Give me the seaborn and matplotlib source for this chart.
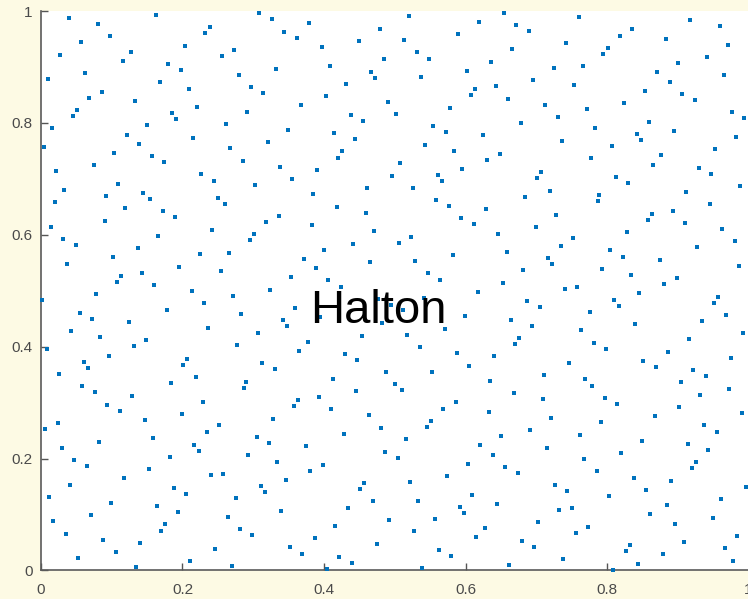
import numpy as np
import seaborn as sns
import matplotlib.pyplot as plt

# Halton point set (bases 2 and 3), points 1..500
# x values in units of 1/512, y values in units of 1/729
x_num = [
    256, 128, 384,
    64, 320, 192, 448,
    32, 288, 160, 416, 96, 352, 224, 480,
    16, 272, 144, 400, 80, 336, 208, 464, 48, 304, 176, 432, 112, 368, 240, 496,
    8, 264, 136, 392, 72, 328, 200, 456, 40, 296, 168, 424, 104, 360, 232, 488,
    24, 280, 152, 408, 88, 344, 216, 472, 56, 312, 184, 440, 120, 376, 248, 504,
    4, 260, 132, 388, 68, 324, 196, 452, 36, 292, 164, 420, 100, 356, 228, 484,
    20, 276, 148, 404, 84, 340, 212, 468, 52, 308, 180, 436, 116, 372, 244, 500,
    12, 268, 140, 396, 76, 332, 204, 460, 44, 300, 172, 428, 108, 364, 236, 492,
    28, 284, 156, 412, 92, 348, 220, 476, 60, 316, 188, 444, 124, 380, 252, 508,
    2, 258, 130, 386, 66, 322, 194, 450, 34, 290, 162, 418, 98, 354, 226, 482,
    18, 274, 146, 402, 82, 338, 210, 466, 50, 306, 178, 434, 114, 370, 242, 498,
    10, 266, 138, 394, 74, 330, 202, 458, 42, 298, 170, 426, 106, 362, 234, 490,
    26, 282, 154, 410, 90, 346, 218, 474, 58, 314, 186, 442, 122, 378, 250, 506,
    6, 262, 134, 390, 70, 326, 198, 454, 38, 294, 166, 422, 102, 358, 230, 486,
    22, 278, 150, 406, 86, 342, 214, 470, 54, 310, 182, 438, 118, 374, 246, 502,
    14, 270, 142, 398, 78, 334, 206, 462, 46, 302, 174, 430, 110, 366, 238, 494,
    30, 286, 158, 414, 94, 350, 222, 478, 62, 318, 190, 446, 126, 382, 254, 510,
    1, 257, 129, 385, 65, 321, 193, 449, 33, 289, 161, 417, 97, 353, 225, 481,
    17, 273, 145, 401, 81, 337, 209, 465, 49, 305, 177, 433, 113, 369, 241, 497,
    9, 265, 137, 393, 73, 329, 201, 457, 41, 297, 169, 425, 105, 361, 233, 489,
    25, 281, 153, 409, 89, 345, 217, 473, 57, 313, 185, 441, 121, 377, 249, 505,
    5, 261, 133, 389, 69, 325, 197, 453, 37, 293, 165, 421, 101, 357, 229, 485,
    21, 277, 149, 405, 85, 341, 213, 469, 53, 309, 181, 437, 117, 373, 245, 501,
    13, 269, 141, 397, 77, 333, 205, 461, 45, 301, 173, 429, 109, 365, 237, 493,
    29, 285, 157, 413, 93, 349, 221, 477, 61, 317, 189, 445, 125, 381, 253, 509,
    3, 259, 131, 387, 67, 323, 195, 451, 35, 291, 163, 419, 99, 355, 227, 483,
    19, 275, 147, 403, 83, 339, 211, 467, 51, 307, 179, 435, 115, 371, 243, 499,
    11, 267, 139, 395, 75, 331, 203, 459, 43, 299, 171, 427, 107, 363, 235, 491,
    27, 283, 155, 411, 91, 347, 219, 475, 59, 315, 187, 443, 123, 379, 251, 507,
    7, 263, 135, 391, 71, 327, 199, 455, 39, 295, 167, 423, 103, 359, 231, 487,
    23, 279, 151, 407, 87, 343, 215, 471, 55, 311, 183, 439, 119, 375, 247, 503,
    15, 271, 143, 399, 79, 335, 207, 463, 47, 303, 175, 431, 111, 367, 239, 495,
    31, 287, 159, 415, 95,
]

y_num = [
    243, 486, 81, 324, 567, 162, 405, 648,
    27, 270, 513, 108, 351, 594, 189, 432, 675,
    54, 297, 540, 135, 378, 621, 216, 459, 702,
    9, 252, 495, 90, 333, 576, 171, 414, 657,
    36, 279, 522, 117, 360, 603, 198, 441, 684,
    63, 306, 549, 144, 387, 630, 225, 468, 711,
    18, 261, 504, 99, 342, 585, 180, 423, 666,
    45, 288, 531, 126, 369, 612, 207, 450, 693,
    72, 315, 558, 153, 396, 639, 234, 477, 720,
    3, 246, 489, 84, 327, 570, 165, 408, 651,
    30, 273, 516, 111, 354, 597, 192, 435, 678,
    57, 300, 543, 138, 381, 624, 219, 462, 705,
    12, 255, 498, 93, 336, 579, 174, 417, 660,
    39, 282, 525, 120, 363, 606, 201, 444, 687,
    66, 309, 552, 147, 390, 633, 228, 471, 714,
    21, 264, 507, 102, 345, 588, 183, 426, 669,
    48, 291, 534, 129, 372, 615, 210, 453, 696,
    75, 318, 561, 156, 399, 642, 237, 480, 723,
    6, 249, 492, 87, 330, 573, 168, 411, 654,
    33, 276, 519, 114, 357, 600, 195, 438, 681,
    60, 303, 546, 141, 384, 627, 222, 465, 708,
    15, 258, 501, 96, 339, 582, 177, 420, 663,
    42, 285, 528, 123, 366, 609, 204, 447, 690,
    69, 312, 555, 150, 393, 636, 231, 474, 717,
    24, 267, 510, 105, 348, 591, 186, 429, 672,
    51, 294, 537, 132, 375, 618, 213, 456, 699,
    78, 321, 564, 159, 402, 645, 240, 483, 726,
    1, 244, 487, 82, 325, 568, 163, 406, 649,
    28, 271, 514, 109, 352, 595, 190, 433, 676,
    55, 298, 541, 136, 379, 622, 217, 460, 703,
    10, 253, 496, 91, 334, 577, 172, 415, 658,
    37, 280, 523, 118, 361, 604, 199, 442, 685,
    64, 307, 550, 145, 388, 631, 226, 469, 712,
    19, 262, 505, 100, 343, 586, 181, 424, 667,
    46, 289, 532, 127, 370, 613, 208, 451, 694,
    73, 316, 559, 154, 397, 640, 235, 478, 721,
    4, 247, 490, 85, 328, 571, 166, 409, 652,
    31, 274, 517, 112, 355, 598, 193, 436, 679,
    58, 301, 544, 139, 382, 625, 220, 463, 706,
    13, 256, 499, 94, 337, 580, 175, 418, 661,
    40, 283, 526, 121, 364, 607, 202, 445, 688,
    67, 310, 553, 148, 391, 634, 229, 472, 715,
    22, 265, 508, 103, 346, 589, 184, 427, 670,
    49, 292, 535, 130, 373, 616, 211, 454, 697,
    76, 319, 562, 157, 400, 643, 238, 481, 724,
    7, 250, 493, 88, 331, 574, 169, 412, 655,
    34, 277, 520, 115, 358, 601, 196, 439, 682,
    61, 304, 547, 142, 385, 628, 223, 466, 709,
    16, 259, 502, 97, 340, 583, 178, 421, 664,
    43, 286, 529, 124, 367, 610, 205, 448, 691,
    70, 313, 556, 151, 394, 637, 232, 475, 718,
    25, 268, 511, 106, 349, 592, 187, 430, 673,
    52, 295, 538, 133, 376, 619, 214, 457, 700,
    79, 322, 565, 160, 403, 646, 241, 484, 727,
    2, 245, 488, 83, 326, 569, 164, 407, 650,
    29, 272, 515, 110, 353, 596,
]

tick_vals = [0, 0.2, 0.4, 0.6, 0.8, 1]
tick_labels = ["0", "0.2", "0.4", "0.6", "0.8", "1"]
title_text = "Halton"

x = np.array(x_num) / 512
y = np.array(y_num) / 729

sns.set_style("ticks")
plt.rcParams['font.family'] = ['Liberation Sans', 'DejaVu Sans']

fig = plt.figure(figsize=(7.48, 5.99), dpi=100, facecolor="#fdfae4")
ax = fig.add_axes([0.0548, 0.0476, 0.9459, 0.934])
ax.set_facecolor("white")

# small square dots, like the original
sns.scatterplot(x=x, y=y, ax=ax, marker="s", s=8, color="#0072bd",
                linewidth=0, zorder=3, clip_on=False)

ax.text(0.477, 0.443, title_text, ha="center", va="baseline",
        fontsize=34, color="black", zorder=5)

ax.set_xlim(0, 1)
ax.set_ylim(0, 1)
ax.set_xticks(tick_vals)
ax.set_xticklabels(tick_labels)
ax.set_yticks(tick_vals)
ax.set_yticklabels(tick_labels)
ax.tick_params(direction="in", length=5, width=1, colors="#555555",
               labelsize=11, labelcolor="#4a4a4a")
ax.tick_params(axis="x", pad=9)
ax.tick_params(axis="y", pad=6)
for side in ["left", "bottom"]:
    ax.spines[side].set_color("#5a5a5a")
    ax.spines[side].set_linewidth(1.2)
sns.despine(ax=ax)

fig.savefig("out.png", dpi=100, facecolor=fig.get_facecolor())
